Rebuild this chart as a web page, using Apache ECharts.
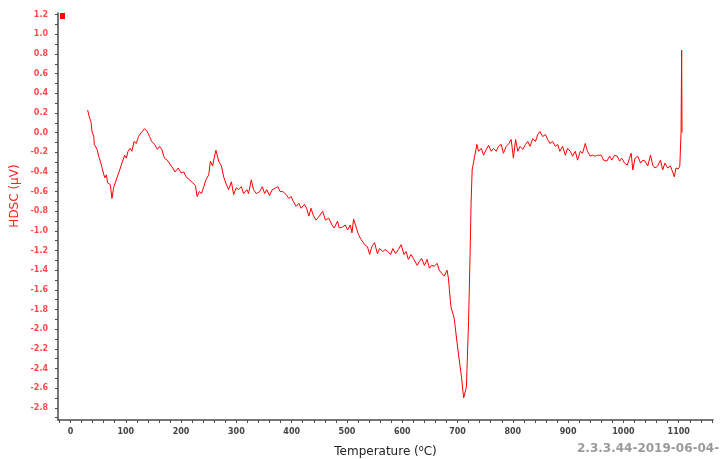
<!DOCTYPE html>
<html>
<head>
<meta charset="utf-8">
<script src="https://cdn.jsdelivr.net/npm/echarts@6/dist/echarts.min.js"></script>
<style>
  html, body { margin: 0; padding: 0; background: #fff; }
  #main { width: 723px; height: 459px; }
</style>
</head>
<body>
<div id="main"></div>
<script>
// Temperature (ºC) of each sample
const temperature = [
  31, 34, 37, 39, 42, 43, 48, 51, 56, 58, 62, 65, 67, 72, 75, 78, 81, 84, 89, 93,
  98, 101, 104, 108, 111, 115, 119, 123, 128, 134, 139, 143, 147, 152, 157, 161, 165, 170, 175, 181,
  185, 189, 195, 200, 205, 209, 215, 221, 226, 229, 233, 237, 241, 245, 250, 253, 257,
  259, 263, 268, 273, 277, 282, 286, 291, 295, 300, 304, 309, 313, 319, 322, 327, 331, 336, 342, 347,
  351, 355, 360, 365, 369, 375, 379, 384, 390, 395, 399, 403, 408, 413, 417, 423, 427, 431, 435, 439,
  444, 450, 456, 461, 467, 473, 477, 483,
  486, 492, 497, 501, 506, 509, 512, 517, 521, 526, 532, 537, 541, 545, 550, 555, 559, 565, 569, 574,
  579, 583, 588, 593, 598, 603, 607, 611, 616, 621, 627, 631, 635, 640, 645, 649, 653, 658, 663, 667,
  671, 676, 681, 683.5, 685.3,
  688, 694, 700, 707, 711, 716, 720, 722.7, 724.5, 726.4, 731,
  735, 738, 743, 747, 752, 756, 761, 765, 770, 774, 779, 783, 788, 793, 797, 801, 805, 809, 813, 818,
  823, 827, 831, 836, 841, 845, 849, 854, 859, 863, 867, 872, 877, 881, 885, 890, 895, 899, 904, 908,
  913, 917, 922, 926, 931, 935, 940, 944, 949, 953,
  960, 964, 970, 975, 979, 984, 989, 993, 997, 1002, 1007, 1011, 1014, 1017, 1021, 1026, 1031, 1035, 1039, 1044,
  1049, 1053, 1057, 1062, 1067, 1071, 1075, 1080, 1085, 1089, 1092, 1095, 1099, 1102, 1104.2, 1105.3, 1106
];

// HDSC signal (µV)
const hdsc = [
  0.23, 0.16, 0.11, 0.01, -0.04, -0.12, -0.17, -0.24, -0.33, -0.38, -0.46, -0.43, -0.51, -0.53, -0.67, -0.56, -0.58, -0.46, -0.38, -0.31,
  -0.23, -0.26, -0.19, -0.16, -0.19, -0.09, -0.11, -0.04, 0.00, 0.04, 0.01, -0.04, -0.09, -0.12, -0.17, -0.14, -0.17, -0.26, -0.28, -0.33,
  -0.36, -0.40, -0.36, -0.41, -0.40, -0.45, -0.48, -0.51, -0.54, -0.65, -0.60, -0.62, -0.55, -0.48, -0.43, -0.29, -0.34,
  -0.28, -0.18, -0.29, -0.34, -0.45, -0.53, -0.58, -0.50, -0.63, -0.56, -0.58, -0.55, -0.62, -0.58, -0.62, -0.48, -0.58, -0.62, -0.60, -0.55,
  -0.62, -0.58, -0.64, -0.58, -0.57, -0.55, -0.60, -0.60, -0.63, -0.67, -0.65, -0.70, -0.75, -0.72, -0.77, -0.73, -0.77, -0.85, -0.77, -0.84,
  -0.89, -0.85, -0.80, -0.89, -0.87, -0.94, -0.97, -0.90,
  -0.97, -0.96, -0.94, -0.99, -0.94, -1.02, -0.88, -0.97, -1.04, -1.09, -1.14, -1.16, -1.24, -1.16, -1.12, -1.23, -1.18, -1.21, -1.19, -1.21,
  -1.24, -1.18, -1.23, -1.19, -1.14, -1.24, -1.21, -1.29, -1.24, -1.29, -1.35, -1.31, -1.28, -1.35, -1.29, -1.38, -1.35, -1.36, -1.33, -1.40,
  -1.43, -1.46, -1.40, -1.48, -1.60,
  -1.77, -1.89, -2.18, -2.48, -2.70, -2.59, -1.91, -1.23, -0.72, -0.38, -0.24,
  -0.12, -0.19, -0.16, -0.23, -0.17, -0.13, -0.19, -0.16, -0.19, -0.14, -0.12, -0.21, -0.14, -0.11, -0.07, -0.26, -0.07, -0.19, -0.14, -0.17,
  -0.12, -0.09, -0.14, -0.06, -0.09, -0.02, 0.01, -0.04, -0.02, -0.07, -0.11, -0.09, -0.14, -0.12, -0.19, -0.14, -0.23, -0.16, -0.19, -0.24,
  -0.19, -0.28, -0.19, -0.21, -0.11, -0.19, -0.24, -0.23, -0.24, -0.23,
  -0.23, -0.28, -0.29, -0.24, -0.28, -0.23, -0.24, -0.29, -0.26, -0.31, -0.33, -0.26, -0.21, -0.38, -0.26, -0.24, -0.31, -0.28, -0.29, -0.34,
  -0.23, -0.33, -0.36, -0.34, -0.28, -0.38, -0.31, -0.36, -0.34, -0.40, -0.45, -0.36, -0.37, -0.34, 0.00, 0.84, 0.00
];

// Tick labels
const xLabelValues = [0, 100, 200, 300, 400, 500, 600, 700, 800, 900, 1000, 1100];
const xTickValues = [-20, 0, 20, 40, 60, 80, 100, 120, 140, 160, 180, 200, 220, 240, 260, 280, 300,
  320, 340, 360, 380, 400, 420, 440, 460, 480, 500, 520, 540, 560, 580, 600, 620, 640, 660, 680, 700,
  720, 740, 760, 780, 800, 820, 840, 860, 880, 900, 920, 940, 960, 980, 1000, 1020, 1040, 1060, 1080,
  1100, 1120, 1140, 1160];
const yLabelValues = [1.2, 1.0, 0.8, 0.6, 0.4, 0.2, 0.0, -0.2, -0.4, -0.6, -0.8, -1.0, -1.2, -1.4,
  -1.6, -1.8, -2.0, -2.2, -2.4, -2.6, -2.8];
const yTickValues = [1.2, 1.1, 1.0, 0.9, 0.8, 0.7, 0.6, 0.5, 0.4, 0.3, 0.2, 0.1, 0.0, -0.1, -0.2,
  -0.3, -0.4, -0.5, -0.6, -0.7, -0.8, -0.9, -1.0, -1.1, -1.2, -1.3, -1.4, -1.5, -1.6, -1.7, -1.8,
  -1.9, -2.0, -2.1, -2.2, -2.3, -2.4, -2.5, -2.6, -2.7, -2.8, -2.9];

const points = temperature.map((t, i) => [t, hdsc[i]]);

const axisColor = '#4a4a4a';
const font = '"DejaVu Sans", Verdana, sans-serif';

const option = {
  animation: false,
  backgroundColor: '#ffffff',
  grid: {
    left: 58,
    right: 10,
    top: 13,
    bottom: 39,
    containLabel: false,
    outerBoundsMode: 'none'
  },
  legend: {
    data: ['HDSC'],
    left: 60,
    top: 13,
    padding: 0,
    icon: 'rect',
    itemWidth: 5,
    itemHeight: 6,
    formatter: () => '',
    selectedMode: false
  },
  xAxis: {
    type: 'value',
    min: -22.6,
    max: 1162,
    name: 'Temperature ({sup|o}C)',
    nameLocation: 'middle',
    nameGap: 25,
    nameTextStyle: {
      fontFamily: font,
      fontSize: 12,
      color: '#222222',
      rich: {
        sup: { fontFamily: font, fontSize: 8, color: '#222222', verticalAlign: 'top', padding: [0, 0, 6, 0] }
      }
    },
    splitLine: { show: false },
    axisLine: { onZero: false, lineStyle: { color: axisColor, width: 1.5 } },
    axisTick: {
      customValues: xTickValues,
      length: 3,
      lineStyle: { color: axisColor, width: 1 }
    },
    axisLabel: {
      customValues: xLabelValues,
      margin: 8,
      fontFamily: font,
      fontSize: 8,
      fontWeight: 'bold',
      color: '#444444',
      formatter: (v) => String(Math.round(v))
    }
  },
  yAxis: {
    type: 'value',
    min: -2.924,
    max: 1.217,
    splitLine: { show: false },
    axisLine: { show: true, onZero: false, lineStyle: { color: axisColor, width: 1.5 } },
    axisTick: {
      show: true,
      customValues: yTickValues,
      length: 3,
      lineStyle: { color: axisColor, width: 1 }
    },
    axisLabel: {
      customValues: yLabelValues,
      margin: 10,
      fontFamily: font,
      fontSize: 8,
      fontWeight: 'bold',
      color: '#ff4a4a',
      formatter: (v) => v.toFixed(1)
    }
  },
  graphic: [
    {
      type: 'text',
      x: 15,
      y: 196,
      rotation: Math.PI / 2,
      style: {
        text: 'HDSC (μV)',
        fontFamily: font,
        fontSize: 12,
        fill: '#ff2020',
        align: 'center',
        verticalAlign: 'middle'
      }
    },
    {
      type: 'text',
      left: 577,
      top: 443,
      style: {
        text: '2.3.3.44-2019-06-04-',
        fontFamily: font,
        fontSize: 12,
        fontWeight: 'bold',
        fill: '#9a9a9a'
      }
    }
  ],
  series: [
    {
      name: 'HDSC',
      type: 'line',
      data: points,
      showSymbol: false,
      symbol: 'none',
      color: '#ff0000',
      lineStyle: { color: '#ff0000', width: 1 }
    }
  ]
};

const chart = echarts.init(document.getElementById('main'));
chart.setOption(option);
</script>
</body>
</html>
